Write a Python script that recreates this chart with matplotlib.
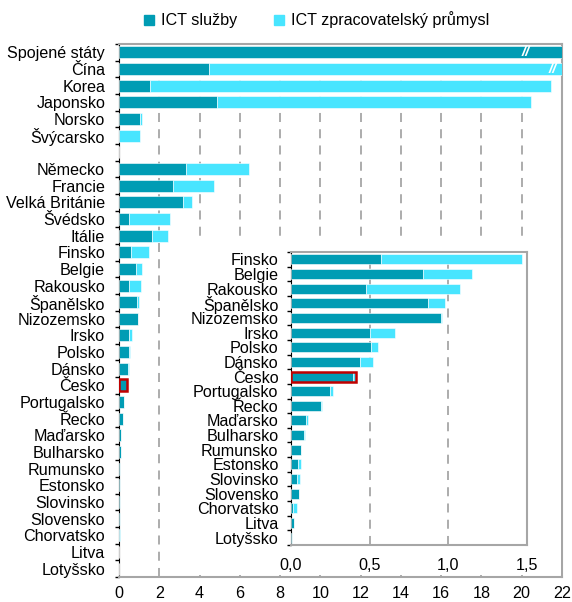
import matplotlib
matplotlib.use("Agg")
import matplotlib.pyplot as plt
from matplotlib.patches import Rectangle

plt.rcParams["font.family"] = ["Liberation Sans", "DejaVu Sans"]

# main chart (top to bottom); "" = empty separator row
countries = ["Spojené státy", "Čína", "Korea", "Japonsko", "Norsko", "Švýcarsko", "",
             "Německo", "Francie", "Velká Británie", "Švédsko", "Itálie",
             "Finsko", "Belgie", "Rakousko", "Španělsko", "Nizozemsko", "Irsko",
             "Polsko", "Dánsko", "Česko", "Portugalsko", "Řecko", "Maďarsko",
             "Bulharsko", "Rumunsko", "Estonsko", "Slovinsko", "Slovensko",
             "Chorvatsko", "Litva", "Lotyšsko"]
services = [30.0, 4.46, 1.54, 4.86, 1.04, 0.0, 0.0,
            3.35, 2.68, 3.17, 0.50, 1.64,
            0.574, 0.842, 0.477, 0.873, 0.956, 0.500,
            0.506, 0.437, 0.392, 0.247, 0.190, 0.095,
            0.080, 0.061, 0.044, 0.036, 0.051,
            0.011, 0.019, 0.004]
manufacturing = [0.0, 25.0, 19.92, 15.61, 0.10, 1.04, 0.0,
                 3.11, 2.06, 0.45, 2.03, 0.77,
                 0.896, 0.308, 0.599, 0.108, 0.006, 0.158,
                 0.049, 0.082, 0.024, 0.023, 0.010, 0.010,
                 0.007, 0.002, 0.017, 0.021, 0.001,
                 0.025, 0.002, 0.002]
highlight = "Česko"
inset_first = "Finsko"

x_ticks = [0, 2, 4, 6, 8, 10, 12, 14, 16, 18, 20, 22]
inset_ticks = [0.0, 0.5, 1.0, 1.5]
inset_tick_labels = ["0,0", "0,5", "1,0", "1,5"]

c_serv = "#009cb4"
c_manu = "#48e5ff"
c_red = "#c00000"
c_grid = "#a6a6a6"
fs = 11.6

fig = plt.figure(figsize=(5.72, 6.02), dpi=100, facecolor="white")

# ---- main axes
ax = fig.add_axes([119 / 572, 25 / 602, 443 / 572, 533 / 602])
n = len(countries)
ypos = list(range(n))
totals = [s + m for s, m in zip(services, manufacturing)]
ax.barh(ypos, services, height=0.72, color=c_serv, edgecolor="white", linewidth=0.4, zorder=3)
ax.barh(ypos, manufacturing, left=services, height=0.72, color=c_manu,
        edgecolor="white", linewidth=0.4, zorder=3)
hi = countries.index(highlight)
ax.barh(hi, totals[hi], height=0.72, fill=False, edgecolor=c_red, linewidth=1.8, zorder=4)
ax.set_xlim(0, 22)
ax.set_ylim(n - 0.5, -0.5)
ax.set_xticks(x_ticks)
ax.set_xticklabels([str(t) for t in x_ticks], fontsize=fs)
ax.tick_params(axis="x", length=0, pad=6.5)
ax.set_yticks([i - 0.5 for i in range(n + 1)])
ax.set_yticklabels([])
ax.set_yticks(ypos, minor=True)
ax.set_yticklabels(countries, minor=True, fontsize=fs)
ax.tick_params(axis="y", which="major", length=3, width=1, color="black")
ax.tick_params(axis="y", which="minor", length=0, pad=10)
ax.grid(axis="x", color=c_grid, linestyle=(0, (5, 4)), linewidth=1.3, zorder=1)
for side in ["top", "right", "bottom"]:
    ax.spines[side].set_color(c_grid)
    ax.spines[side].set_linewidth(1.5)
ax.spines["left"].set_color("black")

# break marks on the clipped bars
ax.text(20.2, 0, "//", color="white", fontsize=11, fontweight="bold", fontstyle="italic",
        ha="center", va="center", zorder=5)
ax.text(21.55, 1, "//", color="white", fontsize=11, fontweight="bold", fontstyle="italic",
        ha="center", va="center", zorder=5)

# ---- white box behind the inset
fig.patches.append(Rectangle((185 / 572, 27 / 602), 376 / 572, 337 / 602,
                             transform=fig.transFigure, facecolor="white",
                             edgecolor="none", zorder=1))

# ---- inset
k = countries.index(inset_first)
in_names = countries[k:]
in_serv = services[k:]
in_manu = manufacturing[k:]
m = len(in_names)
iy = list(range(m))
axi = fig.add_axes([291 / 572, 57 / 602, 236 / 572, 293 / 602], zorder=2)
axi.barh(iy, in_serv, height=0.68, color=c_serv, edgecolor="white", linewidth=0.4, zorder=3)
axi.barh(iy, in_manu, left=in_serv, height=0.68, color=c_manu, edgecolor="white", linewidth=0.4, zorder=3)
hj = in_names.index(highlight)
axi.barh(hj, in_serv[hj] + in_manu[hj], height=0.68, fill=False, edgecolor=c_red, linewidth=1.8, zorder=4)
axi.set_xlim(0, 1.5)
axi.set_ylim(m - 0.5, -0.5)
axi.set_xticks(inset_ticks)
axi.set_xticklabels(inset_tick_labels, fontsize=fs)
axi.tick_params(axis="x", length=0, pad=9.5)
axi.set_yticks([i - 0.5 for i in range(m + 1)])
axi.set_yticklabels([])
axi.set_yticks(iy, minor=True)
axi.set_yticklabels(in_names, minor=True, fontsize=fs)
axi.tick_params(axis="y", which="major", length=3, width=1, color="black")
axi.tick_params(axis="y", which="minor", length=0, pad=9)
axi.grid(axis="x", color=c_grid, linestyle=(0, (5, 4)), linewidth=1.3, zorder=1)
for side in ["top", "right", "bottom"]:
    axi.spines[side].set_color(c_grid)
    axi.spines[side].set_linewidth(1.5)
axi.spines["left"].set_color("black")

# ---- legend
h1 = plt.Line2D([], [], marker="s", linestyle="none", color=c_serv, markersize=7)
h2 = plt.Line2D([], [], marker="s", linestyle="none", color=c_manu, markersize=7)
fig.legend([h1, h2], ["ICT služby", "ICT zpracovatelský průmysl"], loc="upper center",
           bbox_to_anchor=(0.552, 1.005), ncol=2, frameon=False, fontsize=fs,
           handlelength=0.8, handletextpad=0.35, columnspacing=2.2)

fig.savefig("out.png", dpi=100, facecolor="white")
